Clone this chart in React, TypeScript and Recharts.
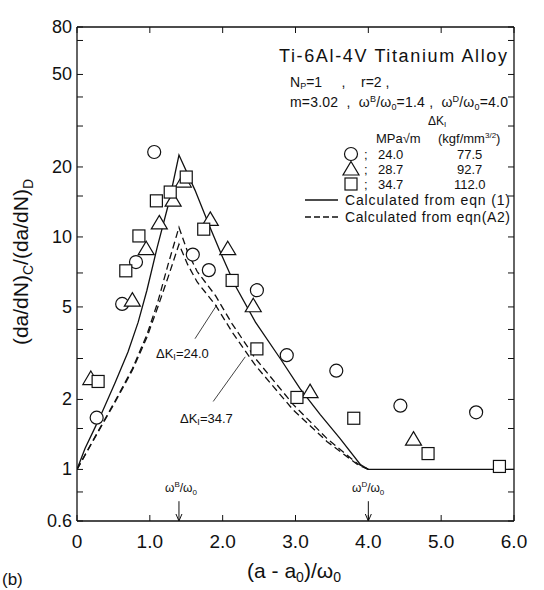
import { ComposedChart, Line, Scatter, XAxis, YAxis, ReferenceLine } from 'recharts'

const xTicks = [0, 1, 2, 3, 4, 5, 6]
const yLabels = [0.6, 1, 2, 5, 10, 20, 50, 80]
const yMinor = [0.8, 1.5, 3, 4, 7, 15, 30, 40, 70]

// experimental points [x, y]
const circles = [
  [0.27, 1.67], [0.62, 5.15], [0.81, 7.8], [1.06, 23.2], [1.59, 8.4], [1.81, 7.2],
  [2.47, 5.9], [2.88, 3.1], [3.56, 2.66], [4.44, 1.88], [5.48, 1.76],
]
const triangles = [
  [0.19, 2.46], [0.76, 5.35], [0.95, 8.9], [1.13, 11.5], [1.32, 14.4], [1.46, 17.4],
  [1.83, 11.9], [2.07, 8.9], [2.42, 5.06], [3.2, 2.16], [4.62, 1.35],
]
const squares = [
  [0.29, 2.39], [0.67, 7.15], [0.85, 10.1], [1.09, 14.3], [1.28, 15.6], [1.5, 18.1],
  [1.74, 10.8], [2.13, 6.5], [2.47, 3.3], [3.02, 2.04], [3.8, 1.66], [4.82, 1.17], [5.8, 1.03],
]

// calculated curves [x, y]
const eqn1 = [
  [0, 1], [0.11, 1.23], [0.25, 1.52], [0.34, 1.75], [0.52, 2.35], [0.7, 3.2], [0.84, 4.3],
  [0.96, 5.9], [1.1, 9.0], [1.26, 14.0], [1.4, 22.5], [1.62, 15.9], [1.8, 11.5], [1.99, 8.3],
  [2.17, 6.2], [2.45, 4.3], [2.79, 3.0], [3.06, 2.23], [3.34, 1.72], [3.61, 1.36], [3.89, 1.05],
  [4.0, 1], [6.0, 1],
]
const eqnA2_240 = [
  [0, 1], [0.29, 1.46], [0.52, 1.96], [0.76, 2.71], [0.96, 3.8], [1.11, 5.26], [1.25, 7.6],
  [1.4, 11.0], [1.52, 8.6], [1.65, 7.1], [1.9, 5.6], [2.13, 4.23], [2.45, 3.0], [2.97, 1.9],
  [3.43, 1.36], [3.85, 1.06], [4.0, 1],
]
const eqnA2_347 = [
  [0, 1], [0.29, 1.45], [0.52, 1.94], [0.76, 2.67], [0.96, 3.7], [1.11, 5.0], [1.25, 6.7],
  [1.4, 9.3], [1.52, 7.6], [1.65, 6.4], [1.9, 5.1], [2.13, 3.9], [2.45, 2.8], [2.97, 1.8],
  [3.43, 1.32], [3.85, 1.05], [4.0, 1],
]

// leader lines for the dK labels, and the w_B / w_D markers on the x axis
const leader240 = [[1.62, 3.65], [1.92, 5.1]]
const leader347 = [[1.87, 1.96], [2.31, 3.05]]
const markB = [[1.4, 0.73], [1.4, 0.6]]
const markD = [[4.0, 0.73], [4.0, 0.6]]

// legend table rows: dK_I in MPa sqrt(m) and kgf/mm^3/2
const dkMPa = ['24.0', '28.7', '34.7']
const dkKgf = ['77.5', '92.7', '112.0']

const toPts = (rows: number[][]) => rows.map(([x, y]) => ({ x, y }))
const toSeg = (rows: number[][]) => rows.map(([x, y]) => ({ x, y })) as any

const INK = '#111'
const FONT = '"Liberation Sans", Arial, sans-serif'
const PLOT = { l: 77, r: 514, t: 27, b: 521 }

const Ring = (p: any) => (
  <circle cx={p.cx} cy={p.cy} r={6.5} fill="#fff" stroke={INK} strokeWidth={1.2} />
)
const Tri = (p: any) => (
  <path
    d={`M${p.cx},${p.cy - 7.5}L${p.cx + 8},${p.cy + 6}L${p.cx - 8},${p.cy + 6}Z`}
    fill="#fff"
    stroke={INK}
    strokeWidth={1.2}
  />
)
const Box = (p: any) => (
  <rect x={p.cx - 6} y={p.cy - 6} width={12} height={12} fill="#fff" stroke={INK} strokeWidth={1.2} />
)
const legendShapes = [Ring, Tri, Box]

function YTick(props: any) {
  const { y, payload } = props
  const v = payload.value
  return (
    <g>
      <line x1={PLOT.l} x2={PLOT.l + 6} y1={y} y2={y} stroke={INK} />
      <line x1={PLOT.r - 6} x2={PLOT.r} y1={y} y2={y} stroke={INK} />
      {yLabels.includes(v) && (
        <text x={PLOT.l - 5} y={y} dy={6} textAnchor="end" fontSize={18} fill={INK} fontFamily={FONT}>
          {String(v)}
        </text>
      )}
    </g>
  )
}

function XTick(props: any) {
  const { x, payload } = props
  const v = payload.value
  return (
    <g>
      <line x1={x} x2={x} y1={PLOT.b} y2={PLOT.b - 6} stroke={INK} />
      <line x1={x} x2={x} y1={PLOT.t} y2={PLOT.t + 6} stroke={INK} />
      <text x={x} y={548} textAnchor="middle" fontSize={19} fill={INK} fontFamily={FONT}>
        {v === 0 ? '0' : v.toFixed(1)}
      </text>
    </g>
  )
}

function Arrow(props: any) {
  const { x1, y1, x2, y2 } = props
  return (
    <g>
      <line x1={x1} y1={y1} x2={x2} y2={y2} stroke={INK} strokeWidth={1} />
      <path d={`M${x2 - 3},${y2 - 7}L${x2},${y2}L${x2 + 3},${y2 - 7}`} fill="none" stroke={INK} />
    </g>
  )
}

function Notes() {
  const t = { fill: INK, fontFamily: FONT }
  const pre = { whiteSpace: 'pre' as const }
  return (
    <svg
      width={544}
      height={590}
      style={{ position: 'absolute', left: 0, top: 0, pointerEvents: 'none' }}
    >
      <text x={279} y={62} fontSize={18} textLength={228} lengthAdjust="spacing" {...t}>
        Ti-6Al-4V Titanium Alloy
      </text>
      <text x={290} y={87} fontSize={14} style={pre} {...t}>
        N<tspan fontSize={9} dy={2}>P</tspan>
        <tspan dy={-2}>{'=1     ,    r=2 ,'}</tspan>
      </text>
      <text x={290} y={107} fontSize={14} style={pre} textLength={218} lengthAdjust="spacing" {...t}>
        {'m=3.02  ,  ω'}
        <tspan fontSize={9} dy={-5}>B</tspan>
        <tspan dy={5}>/ω</tspan>
        <tspan fontSize={9} dy={3}>0</tspan>
        <tspan dy={-3}>{'=1.4 ,  ω'}</tspan>
        <tspan fontSize={9} dy={-5}>D</tspan>
        <tspan dy={5}>/ω</tspan>
        <tspan fontSize={9} dy={3}>0</tspan>
        <tspan dy={-3}>=4.0</tspan>
      </text>

      <text x={428} y={125} fontSize={12} {...t}>
        ΔK<tspan fontSize={8} dy={2}>I</tspan>
      </text>
      <text x={376} y={143} fontSize={13} {...t}>
        MPa√m
      </text>
      <text x={438} y={143} fontSize={13} {...t}>
        (kgf/mm<tspan fontSize={8} dy={-5}>3/2</tspan>
        <tspan dy={5}>)</tspan>
      </text>

      {dkMPa.map((v, i) => {
        const y = 159 + i * 15
        const Shape = legendShapes[i]
        return (
          <g key={v}>
            <Shape cx={351} cy={y - 5} />
            <text x={364} y={y} fontSize={13} {...t}>;</text>
            <text x={378} y={y} fontSize={13} {...t}>{v}</text>
            <text x={i === 2 ? 454 : 457} y={y} fontSize={13} {...t}>{dkKgf[i]}</text>
          </g>
        )
      })}

      <line x1={305} x2={338} y1={200} y2={200} stroke={INK} strokeWidth={1.3} />
      <text x={345} y={205} fontSize={14} textLength={165} lengthAdjust="spacing" {...t}>
        Calculated from eqn (1)
      </text>
      <line x1={305} x2={338} y1={217} y2={217} stroke={INK} strokeWidth={1.3} strokeDasharray="6 3" />
      <text x={345} y={222} fontSize={14} textLength={165} lengthAdjust="spacing" {...t}>
        Calculated from eqn(A2)
      </text>

      <text x={156} y={358} fontSize={13} {...t}>
        ΔK<tspan fontSize={9} dy={2}>I</tspan>
        <tspan dy={-2}>=24.0</tspan>
      </text>
      <text x={180} y={423} fontSize={13} {...t}>
        ΔK<tspan fontSize={9} dy={2}>I</tspan>
        <tspan dy={-2}>=34.7</tspan>
      </text>

      <text x={165} y={492} fontSize={12} {...t}>
        ω<tspan fontSize={8} dy={-5}>B</tspan>
        <tspan dy={5}>/ω</tspan>
        <tspan fontSize={8} dy={3}>0</tspan>
      </text>
      <text x={352} y={492} fontSize={12} {...t}>
        ω<tspan fontSize={8} dy={-5}>D</tspan>
        <tspan dy={5}>/ω</tspan>
        <tspan fontSize={8} dy={3}>0</tspan>
      </text>

      <text transform="translate(28,262) rotate(-90)" fontSize={21} textAnchor="middle" {...t}>
        (da/dN)<tspan fontSize={14} dy={5}>C</tspan>
        <tspan dy={-5}>/(da/dN)</tspan>
        <tspan fontSize={14} dy={5}>D</tspan>
      </text>
      <text x={294} y={578} fontSize={21} textAnchor="middle" {...t}>
        (a - a<tspan fontSize={14} dy={4}>0</tspan>
        <tspan dy={-4}>)/ω</tspan>
        <tspan fontSize={14} dy={4}>0</tspan>
      </text>
      <text x={2} y={585} fontSize={17} {...t}>
        (b)
      </text>
    </svg>
  )
}

export default function App() {
  return (
    <div style={{ position: 'absolute', left: 0, top: 0, width: 544, height: 590, background: '#fff' }}>
      <ComposedChart
        width={544}
        height={590}
        margin={{ top: 27, right: 30, left: 17, bottom: 29 }}
        style={{ fontFamily: FONT }}
      >
        <XAxis
          dataKey="x"
          type="number"
          domain={[0, 6]}
          ticks={xTicks}
          interval={0}
          allowDataOverflow
          height={40}
          tickLine={false}
          axisLine={{ stroke: INK, strokeWidth: 1.3 }}
          tick={<XTick />}
        />
        <YAxis
          dataKey="y"
          type="number"
          scale="log"
          domain={[0.6, 80]}
          ticks={[...yLabels, ...yMinor].sort((a, b) => a - b)}
          interval={0}
          allowDataOverflow
          width={60}
          tickLine={false}
          axisLine={{ stroke: INK, strokeWidth: 1.3 }}
          tick={<YTick />}
        />
        <ReferenceLine y={80} stroke={INK} strokeWidth={1.3} />
        <ReferenceLine x={6} stroke={INK} strokeWidth={1.3} />

        <Line data={toPts(eqn1)} dataKey="y" type="linear" stroke={INK} strokeWidth={1.3} dot={false} isAnimationActive={false} />
        <Line data={toPts(eqnA2_240)} dataKey="y" type="linear" stroke={INK} strokeWidth={1.3} strokeDasharray="7 4" dot={false} isAnimationActive={false} />
        <Line data={toPts(eqnA2_347)} dataKey="y" type="linear" stroke={INK} strokeWidth={1.3} strokeDasharray="7 4" dot={false} isAnimationActive={false} />

        <ReferenceLine segment={toSeg(leader240)} stroke={INK} strokeWidth={0.8} />
        <ReferenceLine segment={toSeg(leader347)} stroke={INK} strokeWidth={0.8} />
        <ReferenceLine segment={toSeg(markB)} shape={<Arrow />} />
        <ReferenceLine segment={toSeg(markD)} shape={<Arrow />} />

        <Scatter data={toPts(circles)} dataKey="y" shape={Ring} isAnimationActive={false} />
        <Scatter data={toPts(triangles)} dataKey="y" shape={Tri} isAnimationActive={false} />
        <Scatter data={toPts(squares)} dataKey="y" shape={Box} isAnimationActive={false} />
      </ComposedChart>
      <Notes />
    </div>
  )
}
